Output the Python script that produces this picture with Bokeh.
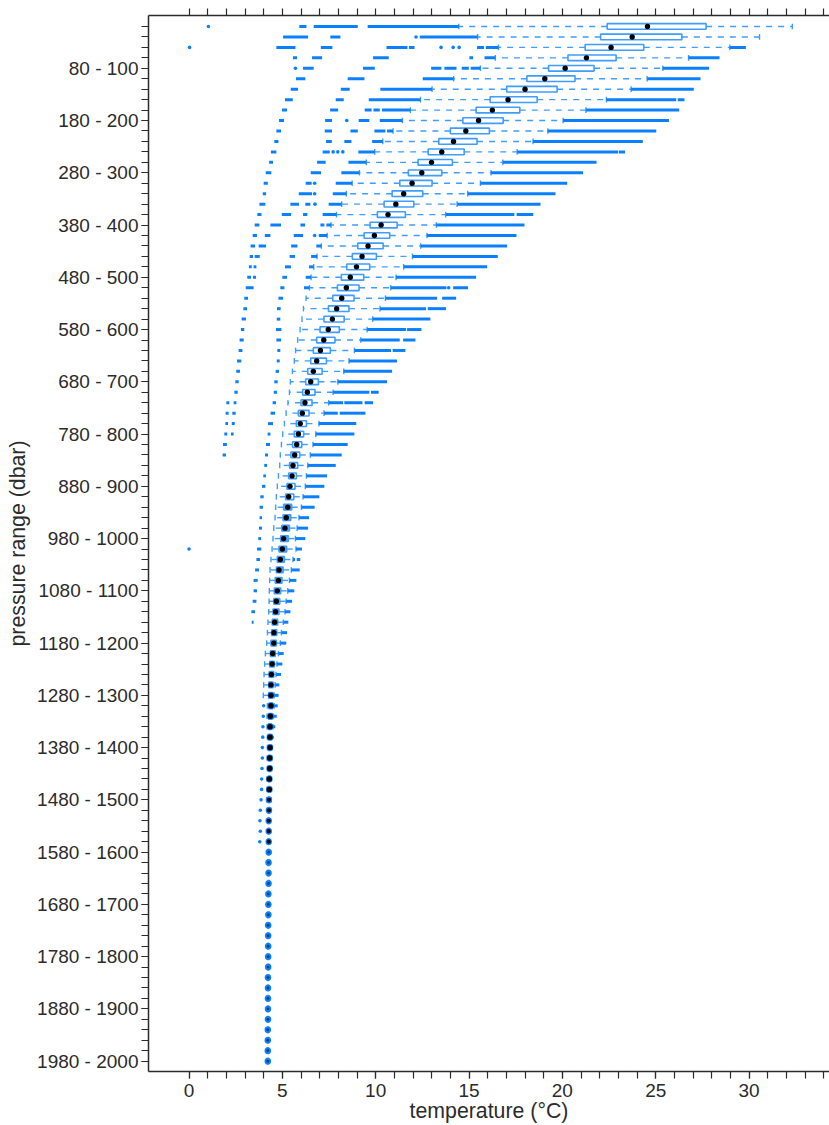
from bokeh.plotting import figure
from bokeh.models import Range1d, LinearAxis, FixedTicker
from bokeh.embed import file_html
from bokeh.resources import INLINE

# pressure ranges, one per row, 0-20 dbar first
lower_pressure = list(range(0, 2000, 20))
range_labels = [f"{p} - {p + 20}" for p in lower_pressure]

q1 = [22.40,22.05,21.22,20.30,19.26,18.10,17.02,16.13,15.38,14.67,
      14.00,13.38,12.81,12.27,11.75,11.29,10.88,10.45,10.09,9.70,
      9.38,9.04,8.75,8.45,8.16,7.95,7.70,7.47,7.23,7.02,
      6.84,6.66,6.52,6.36,6.25,6.09,6.00,5.86,5.75,5.64,
      5.55,5.46,5.39,5.34,5.25,5.18,5.07,5.04,4.97,4.91,
      4.82,4.73,4.68,4.62,4.57,4.54,4.50,4.46,4.43,4.39,
      4.36,4.32,4.29,4.27,4.27,4.28,4.26,4.25,4.25,4.26,
      4.25,4.25,4.24,4.24,4.23,4.23,4.22,4.22,4.22,4.22,
      4.21,4.21,4.21,4.21,4.20,4.20,4.20,4.19,4.19,4.19,
      4.19,4.19,4.18,4.18,4.18,4.18,4.18,4.17,4.17,4.17]
median = [24.56,23.74,22.61,21.29,20.15,19.06,18.00,17.09,16.25,15.51,
      14.83,14.17,13.54,12.99,12.47,11.95,11.50,11.08,10.66,10.29,
      9.93,9.59,9.27,8.97,8.64,8.43,8.18,7.91,7.68,7.46,
      7.22,7.04,6.84,6.66,6.52,6.34,6.21,6.07,5.96,5.86,
      5.77,5.66,5.57,5.52,5.41,5.34,5.29,5.21,5.14,5.07,
      5.00,4.89,4.82,4.79,4.73,4.68,4.64,4.59,4.55,4.54,
      4.48,4.45,4.41,4.39,4.39,4.39,4.36,4.34,4.34,4.34,
      4.32,4.32,4.30,4.30,4.28,4.28,4.27,4.27,4.27,4.27,
      4.26,4.26,4.26,4.25,4.25,4.25,4.24,4.24,4.24,4.24,
      4.24,4.23,4.23,4.23,4.23,4.23,4.22,4.22,4.22,4.22]
q3 = [27.70,26.40,24.36,22.88,21.70,20.68,19.72,18.65,17.72,16.83,
      16.09,15.43,14.74,14.11,13.54,13.02,12.52,12.04,11.59,11.15,
      10.75,10.40,10.04,9.68,9.36,9.11,8.84,8.57,8.31,8.05,
      7.82,7.57,7.36,7.13,6.93,6.75,6.59,6.43,6.29,6.14,
      6.04,5.93,5.82,5.75,5.68,5.61,5.50,5.45,5.38,5.32,
      5.23,5.11,5.04,4.98,4.91,4.86,4.82,4.75,4.70,4.68,
      4.62,4.57,4.54,4.50,4.50,4.48,4.46,4.43,4.42,4.41,
      4.40,4.39,4.37,4.36,4.34,4.33,4.32,4.32,4.31,4.31,
      4.31,4.31,4.31,4.30,4.30,4.30,4.29,4.29,4.29,4.29,
      4.29,4.28,4.28,4.28,4.28,4.28,4.27,4.27,4.27,4.27]
whisker_low = [14.45,15.46,16.58,16.41,15.61,14.18,13.02,12.40,11.86,11.43,
      10.93,10.38,9.95,9.50,9.13,8.74,8.43,8.18,7.90,7.61,
      7.40,7.09,6.86,6.68,6.54,6.45,6.27,6.13,6.05,5.95,
      5.82,5.71,5.64,5.54,5.43,5.38,5.30,5.20,5.11,5.02,
      4.95,4.89,4.86,4.79,4.73,4.68,4.64,4.61,4.54,4.50,
      4.45,4.39,4.34,4.32,4.30,4.29,4.27,4.23,4.20,4.16,
      4.09,4.05,4.02,4.00,3.98,4.20,4.18,4.18,4.20,4.20,
      4.19,4.20,4.18,4.18,4.18,4.20,4.20,4.20,4.20,4.22,
      4.21,4.21,4.21,4.21,4.20,4.20,4.20,4.19,4.19,4.19,
      4.19,4.19,4.18,4.18,4.18,4.18,4.18,4.17,4.17,4.17]
whisker_high = [32.32,30.56,28.97,26.76,25.38,24.54,23.68,22.36,21.26,20.04,
      19.22,18.43,17.58,16.81,16.18,15.61,14.93,14.36,13.75,13.25,
      12.75,12.41,11.97,11.50,11.09,10.81,10.52,10.23,9.84,9.54,
      9.20,8.86,8.57,8.29,7.97,7.72,7.48,7.23,6.96,6.79,
      6.64,6.50,6.36,6.29,6.23,6.11,6.02,5.89,5.79,5.70,
      5.73,5.57,5.48,5.38,5.29,5.20,5.14,5.05,4.95,4.89,
      4.79,4.71,4.66,4.61,4.57,4.56,4.52,4.50,4.46,4.44,
      4.44,4.43,4.42,4.42,4.40,4.38,4.35,4.34,4.33,4.32,
      4.31,4.31,4.31,4.30,4.30,4.30,4.29,4.29,4.29,4.29,
      4.29,4.28,4.28,4.28,4.28,4.28,4.27,4.27,4.27,4.27]

# runs of outlying readings per row, as (from, to) in deg C
outliers = [
 [(1.04,1.04),(5.91,6.29),(6.68,9.04),(9.57,14.45)],
 [(5.04,6.38),(7.57,8.11),(12.16,12.16),(12.36,15.46)],
 [(0.03,0.03),(4.68,5.70),(7.06,7.68),(10.58,11.70),(11.78,12.08),(13.50,13.50),(14.15,14.15),(14.47,14.47),(15.43,15.80),(15.90,16.58),(28.97,29.83)],
 [(5.57,5.79),(6.59,7.13),(9.86,10.70),(15.02,15.22),(15.83,16.41),(26.76,28.42)],
 [(5.70,5.70),(6.11,6.68),(9.32,9.95),(12.97,13.52),(13.68,14.33),(14.61,14.99),(15.09,15.61),(25.38,27.86)],
 [(5.73,6.23),(8.50,9.40),(12.52,14.18),(24.54,27.40)],
 [(5.45,5.84),(8.13,8.61),(10.25,13.02),(23.68,27.04)],
 [(5.14,5.56),(7.86,8.29),(9.63,12.40),(22.36,26.10),(26.18,26.54)],
 [(4.98,5.25),(7.56,7.99),(9.41,9.78),(9.88,10.22),(10.34,11.86),(21.26,26.26)],
 [(4.82,5.09),(7.29,7.66),(8.45,8.45),(9.09,9.66),(10.22,11.43),(20.04,25.71)],
 [(4.68,4.93),(7.27,7.66),(8.65,9.04),(9.93,10.52),(10.61,10.93),(19.22,25.03)],
 [(4.57,4.79),(7.34,7.65),(8.32,8.70),(9.81,10.38),(18.43,24.31)],
 [(4.39,4.68),(7.16,7.54),(7.72,7.72),(7.97,7.97),(8.24,8.24),(9.07,9.95),(17.58,22.98),(23.02,23.36)],
 [(4.29,4.50),(6.86,7.32),(8.54,9.50),(16.81,21.83)],
 [(4.11,4.41),(6.52,7.07),(8.16,9.13),(16.18,21.11)],
 [(4.00,4.22),(6.25,6.57),(6.73,6.73),(7.86,8.74),(15.61,20.26)],
 [(3.95,4.13),(5.88,6.59),(6.73,6.73),(7.70,8.43),(14.93,19.63)],
 [(3.77,4.09),(5.43,5.89),(6.23,6.50),(6.75,6.75),(7.48,8.18),(14.36,18.83)],
 [(3.66,3.88),(4.97,5.47),(6.11,6.34),(7.16,7.90),(13.75,17.43),(17.55,18.44)],
 [(3.52,3.77),(4.36,4.93),(5.97,6.22),(7.04,7.25),(7.36,7.61),(13.25,17.97)],
 [(3.41,3.64),(4.06,4.36),(5.61,6.11),(6.73,6.73),(6.95,7.40),(12.75,17.54)],
 [(3.30,3.54),(3.73,4.13),(5.47,5.81),(6.82,7.09),(12.41,17.04)],
 [(3.25,3.43),(3.52,3.79),(5.39,5.68),(6.54,6.86),(11.97,16.54)],
 [(3.21,3.36),(3.46,3.61),(5.14,5.46),(6.43,6.68),(11.50,15.97)],
 [(3.12,3.32),(3.43,3.59),(5.00,5.25),(6.25,6.54),(11.09,15.38)],
 [(3.04,3.46),(4.89,5.11),(6.16,6.45),(10.81,13.79),(13.91,13.91),(14.15,14.95)],
 [(2.96,3.16),(4.79,5.04),(10.52,13.29),(13.56,14.31)],
 [(2.91,3.11),(4.71,4.91),(10.23,12.70),(12.79,13.77)],
 [(2.82,3.05),(4.70,4.89),(9.84,12.93)],
 [(2.78,2.96),(4.66,4.95),(9.54,11.63),(11.68,12.45)],
 [(2.71,2.93),(4.68,4.93),(9.20,11.29),(11.47,12.13)],
 [(2.66,2.86),(4.73,4.89),(8.86,10.82),(10.91,11.59)],
 [(2.57,2.80),(4.70,4.86),(8.57,11.14)],
 [(2.53,2.73),(4.64,4.82),(8.29,10.88)],
 [(2.48,2.66),(4.57,4.75),(7.97,10.61)],
 [(2.43,2.61),(4.54,4.71),(7.72,9.66),(9.75,10.16)],
 [(2.00,2.16),(2.39,2.54),(4.48,4.66),(7.48,8.25),(8.32,9.29),(9.41,9.86)],
 [(1.96,2.12),(2.32,2.50),(4.37,4.61),(7.23,7.97),(8.07,9.45)],
 [(1.95,2.09),(2.29,2.45),(4.23,4.50),(6.96,8.96)],
 [(1.89,2.05),(2.25,2.39),(4.21,4.36),(6.79,8.86)],
 [(1.82,2.03),(4.12,4.34),(6.64,8.50)],
 [(1.80,1.98),(4.07,4.23),(6.50,8.18)],
 [(4.03,4.18),(6.36,7.86)],
 [(3.98,4.12),(6.29,7.39)],
 [(3.91,4.09),(6.23,7.25)],
 [(3.82,4.00),(6.11,6.98)],
 [(3.78,3.96),(6.02,6.73)],
 [(3.78,3.91),(5.89,6.43)],
 [(3.75,3.91),(5.79,6.38)],
 [(3.71,3.86),(5.70,6.23)],
 [(0.00,0.00),(3.64,3.87),(5.73,6.05)],
 [(3.61,3.80),(5.57,5.68),(5.77,5.96)],
 [(3.54,3.75),(5.48,5.93)],
 [(3.46,3.68),(5.38,5.75)],
 [(3.46,3.64),(5.29,5.64)],
 [(3.41,3.61),(5.20,5.52)],
 [(3.34,3.54),(5.14,5.43)],
 [(3.36,3.46),(5.05,5.32)],
 [(4.95,5.25)],
 [(4.89,5.21)],
 [(4.79,5.07)],
 [(4.71,5.00)],
 [(4.66,4.93)],
 [(4.61,4.84)],
 [(4.57,4.80)],
 [(4.00,4.00),(4.56,4.75)],
 [(3.98,3.98),(4.52,4.70)],
 [(3.96,3.96),(4.50,4.62)],
 [(3.95,3.95),(4.46,4.54)],
 [(3.93,3.93),(4.44,4.50)],
 [(3.93,3.93),(4.44,4.48)],
 [(3.91,3.91),(4.43,4.48)],
 [(3.89,3.89),(4.42,4.45)],
 [(3.89,3.89),(4.42,4.45)],
 [(3.86,3.86),(4.40,4.43)],
 [(3.82,3.82),(4.38,4.43)],
 [(3.80,3.80)],
 [(3.82,3.82)],
 [(3.79,3.79)],
] + [[] for _ in range(21)]

x_major = [0, 5, 10, 15, 20, 25, 30]
x_minor = list(range(0, 35))
y_major = list(range(5, 101, 5))
y_minor = list(range(1, 101))

BLUE = "#0a80ff"
LIGHT = "#3f9dff"
INK = "#2b2b2b"
FONT = "Liberation Sans"

rows = [i + 1 for i in range(len(median))]

p = figure(width=829, height=1125, output_backend="svg", toolbar_location=None,
           x_range=Range1d(-2.17, 34.31), y_range=Range1d(100.99, -0.05),
           min_border_left=148, min_border_right=0, min_border_top=15, min_border_bottom=54,
           x_axis_location=None, y_axis_location=None, tools="")
p.grid.visible = False
p.outline_line_color = None
p.background_fill_color = "white"


def style(ax):
    ax.axis_line_color = INK
    ax.axis_line_width = 1.5
    ax.major_tick_line_color = INK
    ax.minor_tick_line_color = INK
    ax.major_tick_line_width = 1.2
    ax.minor_tick_line_width = 1.2
    ax.major_tick_out = 7
    ax.major_tick_in = 0
    ax.minor_tick_out = 7
    ax.minor_tick_in = 0
    ax.major_label_text_font = FONT
    ax.major_label_text_font_size = "19px"
    ax.major_label_text_color = INK
    ax.axis_label_text_font = FONT
    ax.axis_label_text_font_style = "normal"
    ax.axis_label_text_font_size = "21.3px"
    ax.axis_label_text_color = INK


bottom = LinearAxis(ticker=FixedTicker(ticks=x_major, minor_ticks=x_minor),
                    axis_label="temperature (°C)", axis_label_standoff=-1)
style(bottom)
bottom.major_label_standoff = 5
top = LinearAxis(ticker=FixedTicker(ticks=[], minor_ticks=x_minor))
style(top)
left = LinearAxis(ticker=FixedTicker(ticks=y_major, minor_ticks=y_minor),
                  axis_label="pressure range (dbar)", axis_label_standoff=4,
                  major_label_overrides={r: range_labels[r - 1] for r in y_major})
style(left)
left.major_label_standoff = 3
p.add_layout(bottom, "below")
p.add_layout(top, "above")
p.add_layout(left, "left")

# whiskers
p.segment(x0=q1, y0=rows, x1=whisker_low, y1=rows, line_color=LIGHT, line_width=1.4, line_dash="6 6")
p.segment(x0=q3, y0=rows, x1=whisker_high, y1=rows, line_color=LIGHT, line_width=1.4, line_dash="6 6")
cap_top = [r - 0.27 for r in rows]
cap_bot = [r + 0.27 for r in rows]
p.segment(x0=whisker_low, y0=cap_top, x1=whisker_low, y1=cap_bot, line_color=LIGHT, line_width=1.4)
p.segment(x0=whisker_high, y0=cap_top, x1=whisker_high, y1=cap_bot, line_color=LIGHT, line_width=1.4)

# outlier runs and isolated outliers
run_x0, run_x1, run_y, dot_x, dot_y = [], [], [], [], []
for r, runs in zip(rows, outliers):
    for lo, hi in runs:
        if lo == hi:
            dot_x.append(lo)
            dot_y.append(r)
        else:
            run_x0.append(lo)
            run_x1.append(hi)
            run_y.append(r)
p.segment(x0=run_x0, y0=run_y, x1=run_x1, y1=run_y, line_color=BLUE, line_width=3)
p.scatter(x=dot_x, y=dot_y, size=3.6, marker="circle", fill_color=BLUE, line_color=None)

# boxes (the narrow lower ones read as solid blue) and medians
box_fill = ["white" if r < 47 else "#5aa8f5" for r in rows]
p.quad(left=q1, right=q3, top=cap_top, bottom=cap_bot, fill_color=box_fill,
       line_color=LIGHT, line_width=1.6)
deep_rows = [r for r in rows if r >= 65]
deep_median = [m for r, m in zip(rows, median) if r >= 65]
p.scatter(x=deep_median, y=deep_rows, size=6.5, marker="circle", fill_color=BLUE, line_color=None)
median_size = [5.4 if r < 75 else 4.2 if r < 80 else 2.8 for r in rows]
median_color = ["black" if r < 80 else "#07407f" for r in rows]
p.scatter(x=median, y=rows, size=median_size, marker="circle", fill_color=median_color, line_color=None)

open("out.html", "w").write(file_html(p, INLINE))
